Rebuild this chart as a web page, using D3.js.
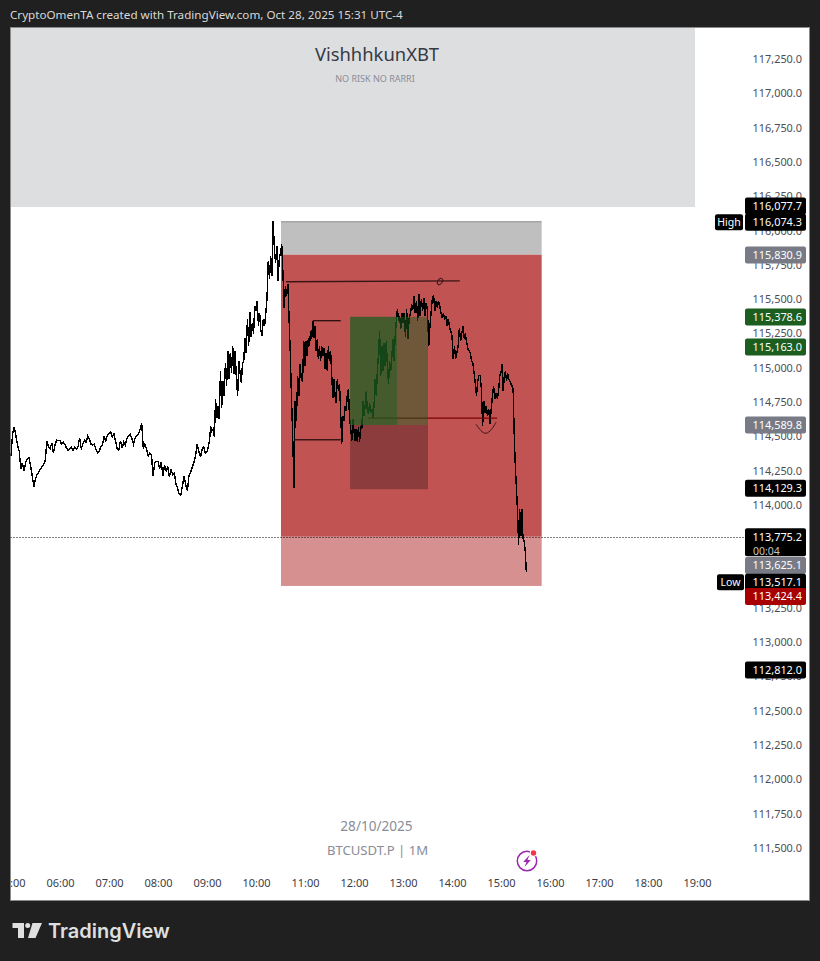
<!DOCTYPE html>
<html>
<head>
<meta charset="utf-8">
<script src="https://cdn.jsdelivr.net/npm/d3@7"></script>
<style>
  html, body { margin: 0; padding: 0; background: #202020; }
  svg { display: block; }
  text { font-family: "Noto Sans", sans-serif; }
</style>
</head>
<body>
<script>
//#region data
// closes for each hour, evenly spread over that hour
let h05 = [114365,114530,114575,114510,114445,114400,114270,114315,114255,114320,114340,114350,114290,114220,114140,114195,114230,114245,114270,114285,114300,114335,114475,114430,114420,114460,114385,114450,114480,114475];
let h06 = [114475,114450,114465,114450,114420,114405,114420,114430,114405,114430,114415,114430,114495,114420,114450,114480,114465,114510,114490,114450,114445,114450,114415,114385,114400,114430,114445,114505,114475,114515];
let h07 = [114525,114540,114500,114525,114475,114420,114405,114475,114420,114465,114445,114490,114510,114525,114490,114450,114495,114510,114525,114555,114605,114420,114450,114415,114365,114385,114370,114220,114315,114325];
let h08 = [114325,114270,114320,114220,114300,114255,114285,114210,114270,114225,114240,114160,114130,114085,114080,114150,114220,114150,114110,114225,114245,114285,114315,114365,114450,114400,114355,114415,114430,114385];
let h09 = [114395,114430,114475,114580,114545,114560,114500,114780,114640,114730,114635,114985,114715,114910,114800,115040,114875,115130,114925,115115,114970,115165,114965,115130,114925,114800,115055,114970,114895,115040,115055,115225,115115,115365,115165,115410,115230,115335,115255,115460];
let h10 = [115420,115495,115310,115405,115275,115240,115365,115310,115405,115515,115785,115655,115820,115675,116074,115875,115770,115895,115640,115800,115845,115910,115695,115440,115605,115530,115620,115365,115110,114780,114490,114130,114765,114620,114950,114800,115035,114925,114910,115200];
let h11 = [115020,115200,115090,115225,115165,115275,115215,115350,115225,115310,115130,115215,115070,115165,115055,115165,115090,115150,115000,115115,114985,115165,115055,115130,114950,114790,114925,114800,114750,114925,114835,114890,114690,114450,114655,114620,114730,114690,114815,114850,114640,114570,114475,114635];
let h12 = [114545,114475,114560,114465,114575,114465,114580,114560,114765,114655,114730,114835,114690,114670,114750,114680,114705,114640,114730,114925,114800,114985,115110,115275,114950,115165,114985,115185,115020,115200,115020,114890,115055,114985,115090,115215,115055,115240,115350,115435,115350,115385,115290,115405];
let h13 = [115335,115405,115230,115435,115215,115365,115405,115455,115435,115530,115405,115495,115350,115545,115385,115510,115420,115515,115385,115480,115420,115165,115310,115420,115515,115530,115420,115495,115445,115495,115460,115405,115370,115405,115365,115380,115310,115365,115300,115275];
let h14 = [115240,115070,115165,115070,115115,115165,115295,115200,115260,115310,115225,115245,115190,115145,115130,115115,115055,115040,114970,114895,114800,114910,114950,114950,114850,114580,114765,114680,114730,114655,114705,114595,114705,114800,114875,114780,114825,114780,114835,114950];
let h15 = [114970,115035,114835,114950,114985,114910,114970,114925,114910,114890,114875,114850,114525,114290,114130,113965,113715,113975,113780,113975,113760,113745,113675,113517];
let sessionHours = [5, 6, 7, 8, 9, 10, 11, 12, 13, 14, 15];
let sessionCloses = [h05, h06, h07, h08, h09, h10, h11, h12, h13, h14, h15];
let lastSessionSpan = 31 / 60; // chart was saved at 15:31

let priceTicks = [117250,117000,116750,116500,116250,116000,115750,115500,115250,115000,114750,114500,114250,114000,113750,113500,113250,113000,112750,112500,112250,112000,111750,111500];
let hourTicks = [5,6,7,8,9,10,11,12,13,14,15,16,17,18,19];

// position tool
let toolTimes = [10.51, 15.83];
let toolPrices = [116071, 115830.9, 113775.2, 113417];
// smaller box
let boxTimes = [11.92, 12.88, 13.51];
let boxPrices = [115378.6, 114589.8, 114122];

// hand drawn lines
let lineATimes = [10.61, 14.16], lineAPrices = [115634, 115640];
let lineBTimes = [11.16, 11.73], lineBPrices = [115350, 115350];
let lineCTimes = [10.78, 11.73], lineCPrices = [114483, 114483];
let lineDTimes = [12.29, 14.92], lineDPrices = [114640, 114640];
let arcTimes = [14.49, 14.59, 14.69, 14.81, 14.90];
let arcPrices = [114595, 114545, 114520, 114555, 114610];
let currentPrice = 113775.2;

// price tags on the right
let tagPrices = [116077.7, 116074.3, 115830.9, 115378.6, 115163.0, 114589.8, 114129.3, 113775.2, 113625.1, 113517.1, 113424.4, 112812.0];
let tagColors = ["#000", "#000", "#787b86", "#1b5e20", "#1b5e20", "#787b86", "#000", "#000", "#787b86", "#000", "#a80000", "#000"];
let tagShifts = [-14.8, 1, 0.2, 0.2, 0.6, 0, 0, 0, 8, 10, 11.5, 1];
//#endregion

//#region layout
let width = 820, height = 961;
let pane = { left: 10.5, top: 27.5, right: 809.5, bottom: 900.5 };
let font = '"Noto Sans", sans-serif';
let xScale = d3.scaleLinear().domain([6, 19]).range([60, 697]);
let yScale = d3.scaleLinear().domain([111500, 117250]).range([849, 60]);
//#endregion

let svg = d3.select("body").append("svg")
  .attr("width", width)
  .attr("height", height);

svg.append("defs").append("clipPath").attr("id", "pane")
  .append("rect")
  .attr("x", pane.left)
  .attr("y", pane.top)
  .attr("width", pane.right - pane.left)
  .attr("height", pane.bottom - pane.top);

// dark page + white pane
svg.append("rect").attr("width", width).attr("height", height).attr("fill", "#202020");
svg.append("rect")
  .attr("x", pane.left)
  .attr("y", pane.top)
  .attr("width", pane.right - pane.left)
  .attr("height", pane.bottom - pane.top)
  .attr("fill", "#fff")
  .attr("stroke", "#8a8a8a");

svg.append("text").text("CryptoOmenTA created with TradingView.com, Oct 28, 2025 15:31 UTC-4")
  .attr("x", 10)
  .attr("y", 19)
  .attr("fill", "#d8d8d8")
  .attr("font-size", 11.65);

let chart = svg.append("g").attr("clip-path", "url(#pane)");

// grey header band
chart.append("rect")
  .attr("x", 11)
  .attr("y", 28)
  .attr("width", 684)
  .attr("height", 179)
  .attr("fill", "#dddee0");
chart.append("text").text("VishhhkunXBT")
  .attr("x", 377)
  .attr("y", 61)
  .attr("text-anchor", "middle")
  .attr("fill", "#363a45")
  .attr("font-size", 18.4);
chart.append("text").text("NO RISK NO RARRI")
  .attr("x", 375)
  .attr("y", 82)
  .attr("text-anchor", "middle")
  .attr("fill", "#8a8d97")
  .attr("font-size", 9);

// the position tool zones
let toolColors = ["#bfbfbf", "#c15353", "#d69090"];
chart.selectAll(".zone").data(toolColors).join("rect")
  .attr("class", "zone")
  .attr("x", xScale(toolTimes[0]))
  .attr("y", (d, i) => yScale(toolPrices[i]))
  .attr("width", xScale(toolTimes[1]) - xScale(toolTimes[0]))
  .attr("height", (d, i) => yScale(toolPrices[i + 1]) - yScale(toolPrices[i]))
  .attr("fill", d => d);
chart.append("line")
  .attr("x1", xScale(toolTimes[0]))
  .attr("x2", xScale(toolTimes[1]))
  .attr("y1", yScale(toolPrices[0]))
  .attr("y2", yScale(toolPrices[0]))
  .attr("stroke", "#8a8a8a");

// flatten the hours into one series
let series = [];
sessionCloses.forEach((closes, s) => {
  let span = s === sessionCloses.length - 1 ? lastSessionSpan : 1;
  let count = s === sessionCloses.length - 1 ? closes.length - 1 : closes.length;
  closes.forEach((close, i) => series.push({ t: sessionHours[s] + i / count * span, p: close }));
});

let line = d3.line().x(d => xScale(d.t)).y(d => yScale(d.p));
chart.append("path")
  .attr("d", line(series))
  .attr("fill", "none")
  .attr("stroke", "#000")
  .attr("stroke-width", 1.4)
  .attr("shape-rendering", "crispEdges");

// hand drawn
function drawStroke(times, prices, color, w) {
  chart.append("path")
    .attr("d", line(times.map((t, i) => ({ t: t, p: prices[i] }))))
    .attr("fill", "none")
    .attr("stroke", color)
    .attr("stroke-width", w);
}
drawStroke(lineATimes, lineAPrices, "#3a1515", 1.3);
drawStroke(lineBTimes, lineBPrices, "#1a0808", 1.2);
drawStroke(lineCTimes, lineCPrices, "#3a1515", 1.4);
drawStroke(lineDTimes, lineDPrices, "#7a0000", 1.2);
chart.append("ellipse")
  .attr("cx", xScale(13.755))
  .attr("cy", yScale(115636))
  .attr("rx", 2.2)
  .attr("ry", 3.4)
  .attr("transform", `rotate(35, ${xScale(13.755)}, ${yScale(115636)})`)
  .attr("fill", "none")
  .attr("stroke", "#3a1515");
chart.append("path")
  .attr("d", d3.line().x(d => xScale(d.t)).y(d => yScale(d.p)).curve(d3.curveBasis)(arcTimes.map((t, i) => ({ t: t, p: arcPrices[i] }))))
  .attr("fill", "none")
  .attr("stroke", "#3a1515")
  .attr("stroke-width", 1);

// smaller box on top of the line
let boxes = [
  { t0: boxTimes[0], t1: boxTimes[1], p0: boxPrices[0], p1: boxPrices[1], fill: "rgb(27,94,32)", alpha: 0.74 },
  { t0: boxTimes[1], t1: boxTimes[2], p0: boxPrices[0], p1: boxPrices[1], fill: "rgb(27,94,32)", alpha: 0.5 },
  { t0: boxTimes[0], t1: boxTimes[2], p0: boxPrices[1], p1: boxPrices[2], fill: "#000", alpha: 0.27 }
];
chart.selectAll(".box").data(boxes).join("rect")
  .attr("class", "box")
  .attr("x", d => xScale(d.t0))
  .attr("y", d => yScale(d.p0))
  .attr("width", d => xScale(d.t1) - xScale(d.t0))
  .attr("height", d => yScale(d.p1) - yScale(d.p0))
  .attr("fill", d => d.fill)
  .attr("fill-opacity", d => d.alpha);

// current price, snapped to a pixel so the dots stay black
let currentY = Math.round(yScale(currentPrice)) + 0.5;
chart.append("line")
  .attr("x1", pane.left)
  .attr("x2", 745)
  .attr("y1", currentY)
  .attr("y2", currentY)
  .attr("stroke", "#000")
  .attr("stroke-dasharray", "1,2");

// watermark text
chart.append("text").text("28/10/2025")
  .attr("x", 376.5)
  .attr("y", 831)
  .attr("text-anchor", "middle")
  .attr("fill", "#8a8d97")
  .attr("font-size", 13.6);
chart.append("text").text("BTCUSDT.P | 1M")
  .attr("x", 377.5)
  .attr("y", 855)
  .attr("text-anchor", "middle")
  .attr("fill", "#8a8d97")
  .attr("font-size", 13.1);

// the axes
let yAxisG = chart.append("g")
  .attr("transform", "translate(802, -1)")
  .call(d3.axisLeft(yScale).tickValues(priceTicks).tickSize(0).tickPadding(0).tickFormat(d3.format(",.1f")));
yAxisG.select(".domain").remove();
yAxisG.selectAll("text").attr("fill", "#4a4d57").attr("font-size", 10.9).style("font-family", font);

let xAxisG = chart.append("g")
  .attr("transform", "translate(0, 879)")
  .call(d3.axisBottom(xScale).tickValues(hourTicks).tickSize(0).tickPadding(0)
    .tickFormat(d => String(d).padStart(2, "0") + ":00"));
xAxisG.select(".domain").remove();
xAxisG.selectAll("text").attr("fill", "#3a3d47").attr("font-size", 11).style("font-family", font);

// price tags
let tagG = chart.selectAll(".tag").data(tagPrices).join("g")
  .attr("class", "tag")
  .attr("transform", (d, i) => `translate(745, ${yScale(d) + tagShifts[i]})`);
tagG.append("rect")
  .attr("y", -8.5)
  .attr("width", 61)
  .attr("height", (d, i) => i === 7 ? 28 : 17)
  .attr("rx", 2)
  .attr("fill", (d, i) => tagColors[i]);
tagG.append("text").text(d => d3.format(",.1f")(d))
  .attr("x", 57)
  .attr("y", 4)
  .attr("text-anchor", "end")
  .attr("fill", "#fff")
  .attr("font-size", 10.9);
chart.append("text").text("00:04")
  .attr("x", 753)
  .attr("y", yScale(currentPrice) + 18)
  .attr("fill", "#c4c4c4")
  .attr("font-size", 10.5);

// High / Low labels
let sideTags = [
  { text: "High", x: 715, w: 28, y: yScale(tagPrices[1]) + tagShifts[1] },
  { text: "Low", x: 717, w: 27, y: yScale(tagPrices[9]) + tagShifts[9] }
];
let sideG = chart.selectAll(".side").data(sideTags).join("g")
  .attr("class", "side")
  .attr("transform", d => `translate(${d.x}, ${d.y})`);
sideG.append("rect")
  .attr("y", -8)
  .attr("width", d => d.w)
  .attr("height", 16)
  .attr("rx", 2)
  .attr("fill", "#000");
sideG.append("text").text(d => d.text)
  .attr("x", d => d.w / 2)
  .attr("y", 4)
  .attr("text-anchor", "middle")
  .attr("fill", "#fff")
  .attr("font-size", 10.5);

// bolt icon near the bottom
let icon = chart.append("g").attr("transform", "translate(527, 861)");
icon.append("circle").attr("r", 9.7).attr("fill", "none").attr("stroke", "#9c27b0").attr("stroke-width", 1.5);
icon.append("path").attr("d", "M2.5,-6 L-3.8,1 L-0.5,1 L-2.5,6 L3.8,-1 L0.5,-1 Z").attr("fill", "#9c27b0");
icon.append("circle").attr("cx", 6.5).attr("cy", -8).attr("r", 3.8).attr("fill", "#fff");
icon.append("circle").attr("cx", 6.5).attr("cy", -8).attr("r", 2.7).attr("fill", "#f23645");

// TradingView logo
let logo = svg.append("g").attr("fill", "#dfdfdf");
logo.append("path").attr("d", "M12.5,923 H24 V938 H18 V928 H12.5 Z");
logo.append("circle").attr("cx", 27.7).attr("cy", 925.5).attr("r", 2.5);
logo.append("path").attr("d", "M32.5,923 H42 L35.5,938 H28 Z");
logo.append("text").text("TradingView")
  .attr("x", 48)
  .attr("y", 938)
  .attr("font-size", 20)
  .attr("font-weight", 600)
  .style("font-family", "Inter, sans-serif");
</script>
</body>
</html>
